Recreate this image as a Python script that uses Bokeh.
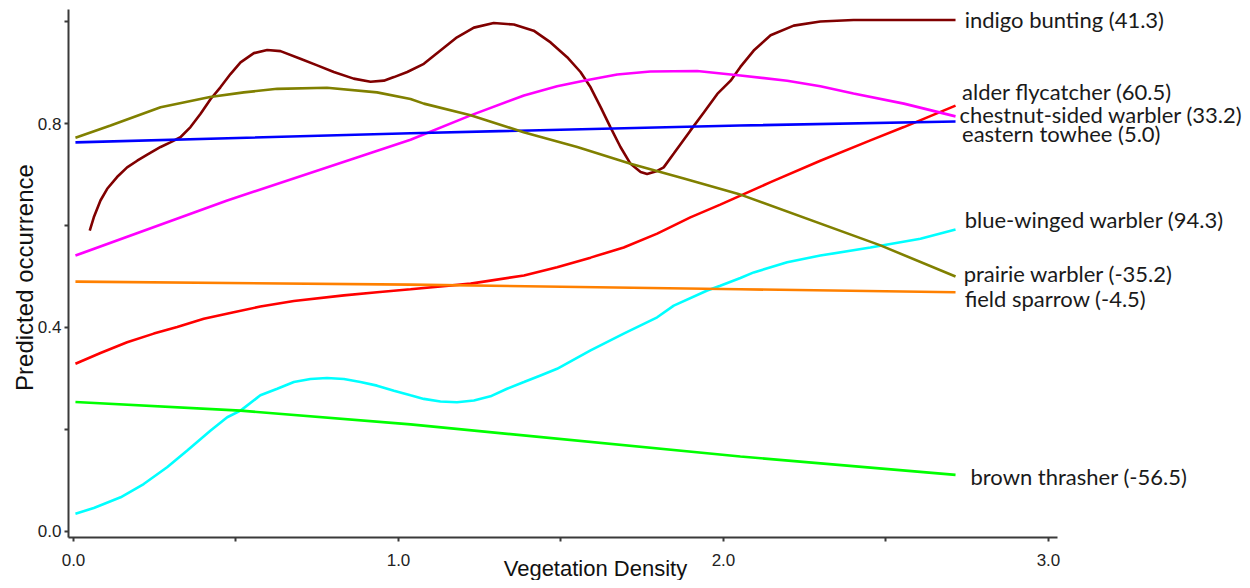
from bokeh.plotting import figure
from bokeh.models import Range1d, FixedTicker, ColumnDataSource, PrintfTickFormatter
from bokeh.core.properties import value
from bokeh.embed import file_html
from bokeh.resources import INLINE

# ---- data ----
indigo_x = [0.05, 0.0625, 0.083, 0.1037, 0.134, 0.165, 0.196, 0.227, 0.268, 0.298, 0.329, 0.36, 0.391,
            0.422, 0.452, 0.483, 0.514, 0.555, 0.596, 0.637, 0.698, 0.75, 0.801, 0.862, 0.914, 0.955,
            0.986, 1.027, 1.078, 1.129, 1.18, 1.232, 1.293, 1.355, 1.416, 1.468, 1.519, 1.56, 1.591,
            1.622, 1.652, 1.683, 1.714, 1.745, 1.765, 1.796, 1.816, 1.847, 1.898, 1.94, 1.981, 2.022,
            2.052, 2.093, 2.145, 2.216, 2.298, 2.4, 2.55, 2.714]
indigo_y = [0.59, 0.616, 0.649, 0.672, 0.695, 0.714, 0.727, 0.739, 0.754, 0.763, 0.773, 0.793, 0.819,
            0.848, 0.871, 0.897, 0.920, 0.938, 0.944, 0.942, 0.927, 0.914, 0.901, 0.888, 0.882, 0.884,
            0.891, 0.901, 0.917, 0.943, 0.969, 0.988, 0.997, 0.994, 0.982, 0.959, 0.93, 0.901, 0.871,
            0.832, 0.793, 0.754, 0.721, 0.705, 0.701, 0.707, 0.714, 0.741, 0.786, 0.822, 0.858, 0.884,
            0.911, 0.943, 0.973, 0.992, 1.0, 1.003, 1.003, 1.003]

alder_x = [0.006, 0.083, 0.165, 0.247, 0.319, 0.401, 0.493, 0.575, 0.678, 0.832, 0.934, 1.037, 1.222,
           1.386, 1.488, 1.591, 1.693, 1.796, 1.898, 1.99, 2.145, 2.298, 2.452, 2.555, 2.714]
alder_y = [0.329, 0.35, 0.371, 0.388, 0.401, 0.417, 0.430, 0.441, 0.452, 0.463, 0.469, 0.475, 0.486,
           0.502, 0.518, 0.537, 0.557, 0.584, 0.616, 0.641, 0.685, 0.727, 0.767, 0.793, 0.835]

chestnut_x = [0.006, 0.473, 1.037, 1.222, 1.386, 1.488, 1.57, 1.673, 1.775, 1.919, 2.052, 2.196, 2.298,
              2.4, 2.555, 2.714]
chestnut_y = [0.541, 0.649, 0.768, 0.816, 0.855, 0.873, 0.884, 0.896, 0.902, 0.903, 0.894, 0.884, 0.873,
              0.859, 0.839, 0.814]

towhee_x = [0.006, 1.037, 2.05, 2.714]
towhee_y = [0.763, 0.781, 0.796, 0.804]

bluewinged_x = [0.006, 0.0625, 0.145, 0.216, 0.288, 0.35, 0.422, 0.473, 0.514, 0.575, 0.627, 0.678,
                0.729, 0.78, 0.832, 0.883, 0.934, 0.986, 1.037, 1.078, 1.129, 1.18, 1.232, 1.283,
                1.334, 1.386, 1.437, 1.488, 1.591, 1.693, 1.796, 1.847, 1.95, 1.99, 2.052, 2.093,
                2.196, 2.298, 2.452, 2.606, 2.714]
bluewinged_y = [0.035, 0.046, 0.067, 0.093, 0.126, 0.159, 0.198, 0.224, 0.237, 0.267, 0.280, 0.293,
                0.299, 0.301, 0.299, 0.293, 0.286, 0.276, 0.267, 0.260, 0.255, 0.2535, 0.257, 0.265,
                0.280, 0.293, 0.306, 0.319, 0.355, 0.388, 0.420, 0.443, 0.4725, 0.482, 0.497, 0.508,
                0.528, 0.541, 0.557, 0.574, 0.592]

prairie_x = [0.006, 0.114, 0.268, 0.42, 0.524, 0.627, 0.78, 0.934, 1.037, 1.078, 1.222, 1.385, 1.55,
             1.714, 1.878, 2.046, 2.483, 2.714]
prairie_y = [0.772, 0.796, 0.832, 0.852, 0.861, 0.868, 0.870, 0.861, 0.848, 0.839, 0.816, 0.783, 0.754,
             0.721, 0.692, 0.662, 0.561, 0.500]

sparrow_x = [0.006, 1.037, 2.05, 2.714]
sparrow_y = [0.490, 0.484, 0.475, 0.469]

thrasher_x = [0.006, 0.514, 1.037, 2.052, 2.714]
thrasher_y = [0.254, 0.237, 0.21, 0.147, 0.111]

series_names = ["indigo bunting (41.3)", "alder flycatcher (60.5)", "chestnut-sided warbler (33.2)",
                "eastern towhee (5.0)", "blue-winged warbler (94.3)", "prairie warbler (-35.2)",
                "field sparrow (-4.5)", "brown thrasher (-56.5)"]
series_colors = ["#800000", "#ff0000", "#ff00ff", "#0000ff", "#00ffff", "#808000", "#ff8000", "#00ff00"]
label_x = [2.742, 2.734, 2.726, 2.734, 2.742, 2.739, 2.742, 2.76]
label_y = [1.004, 0.863, 0.818, 0.780, 0.612, 0.506, 0.457, 0.108]

y_ticks = [0.0, 0.4, 0.8]
y_minor_ticks = [0.2, 0.6, 1.0]
x_ticks = [0.0, 1.0, 2.0, 3.0]
x_minor_ticks = [0.5, 1.5, 2.5]

axis_titles = ["Vegetation Density", "Predicted occurrence"]

series = [(indigo_x, indigo_y), (alder_x, alder_y), (chestnut_x, chestnut_y), (towhee_x, towhee_y),
          (bluewinged_x, bluewinged_y), (prairie_x, prairie_y), (sparrow_x, sparrow_y),
          (thrasher_x, thrasher_y)]

# ---- figure: the frame covers the whole canvas; axes sit at fixed locations ----
p = figure(width=1242, height=580, output_backend="svg", toolbar_location=None,
           x_range=Range1d(-0.2246, 3.597), y_range=Range1d(-0.0961, 1.0412),
           min_border_left=0, min_border_right=0, min_border_top=0, min_border_bottom=0)
p.outline_line_color = None
p.xgrid.visible = False
p.ygrid.visible = False
p.background_fill_color = "white"
p.border_fill_color = "white"

axis_color = "#3a3a3a"
for ax in (p.xaxis[0], p.yaxis[0]):
    ax.axis_line_color = axis_color
    ax.axis_line_width = 2
    ax.major_tick_line_color = axis_color
    ax.minor_tick_line_color = axis_color
    ax.major_tick_line_width = 2
    ax.minor_tick_line_width = 2
    ax.major_tick_out = 4
    ax.major_tick_in = 0
    ax.minor_tick_out = 4
    ax.minor_tick_in = 0
    ax.major_label_text_font = "Liberation Sans"
    ax.major_label_text_font_size = "17px"
    ax.major_label_text_color = "#222222"
    ax.formatter = PrintfTickFormatter(format="%.1f")

p.xaxis[0].ticker = FixedTicker(ticks=x_ticks, minor_ticks=x_minor_ticks)
p.yaxis[0].ticker = FixedTicker(ticks=y_ticks, minor_ticks=y_minor_ticks)
p.xaxis[0].fixed_location = -0.0118
p.yaxis[0].fixed_location = -0.0154
p.xaxis[0].bounds = (-0.0154, 3.028)
p.yaxis[0].bounds = (-0.0118, 1.0235)
p.xaxis[0].major_label_standoff = 12
p.yaxis[0].major_label_standoff = 3

for (xs, ys), col in zip(series, series_colors):
    p.line(xs, ys, line_color=col, line_width=2.6)

src = ColumnDataSource(dict(x=label_x, y=label_y, text=series_names))
p.text(x="x", y="y", text="text", source=src, text_font=value("Lato"), text_font_size="22px",
       text_color="#1a1a1a", text_baseline="middle", text_align="left")

p.text(x=[1.606], y=[-0.0725], text=[axis_titles[0]], text_font=value("Liberation Sans"),
       text_font_size="22px", text_color="#111111", text_align="center", text_baseline="middle")
p.text(x=[-0.1508], y=[0.498], text=[axis_titles[1]], angle=1.5707963, text_font=value("Liberation Sans"),
       text_font_size="24px", text_color="#111111", text_align="center", text_baseline="middle")

open("out.html", "w").write(file_html(p, INLINE))
